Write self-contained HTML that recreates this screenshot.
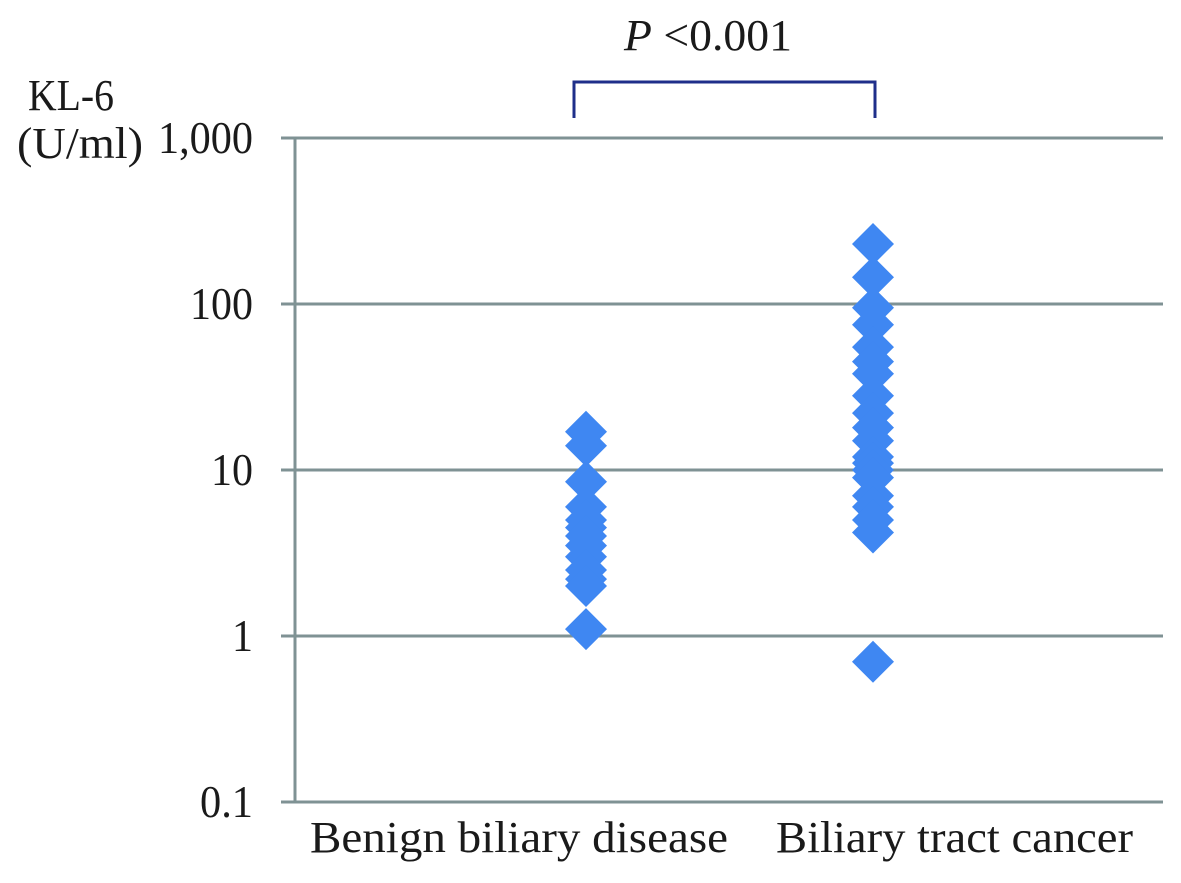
<!DOCTYPE html>
<html><head><meta charset="utf-8"><style>
body{margin:0;background:#fff;}
svg text{font-family:"Liberation Serif",serif;fill:#1a1a1a;}
</style></head><body>
<svg width="1181" height="878" viewBox="0 0 1181 878">
<g id="grid"></g>
<g id="pts"></g>
<text x="28" y="110" font-size="44" textLength="86" lengthAdjust="spacingAndGlyphs">KL-6</text>
<text x="17" y="158" font-size="44" textLength="126" lengthAdjust="spacingAndGlyphs">(U/ml)</text>
<path d="M574,118 V82 H875 V118" fill="none" stroke="#1f2f8a" stroke-width="3"/>
<text x="624" y="50" font-size="44" textLength="168" lengthAdjust="spacingAndGlyphs"><tspan font-style="italic">P</tspan> &lt;0.001</text>
</svg>
<script>
const categories=["Benign biliary disease","Biliary tract cancer"];
const benignValues=[17,14,8.5,6,5,4.5,4,3.5,3,2.5,2.2,2,1.1];
const cancerValues=[230,145,95,75,55,45,38,28,22,18,15,12,11,10,9,7,6,5,4.2,0.7];
const tickValues=[0.1,1,10,100,1000];
const tickLabels=["0.1","1","10","100","1,000"];
const NS="http://www.w3.org/2000/svg";
const y0=802,dec=166,xL=295,xR=1163;
function yScale(v){return y0-(Math.log10(v)+1)*dec;}
function xScale(i){return 586+i*287;}
function mk(t,a,p){const e=document.createElementNS(NS,t);for(const k in a)e.setAttribute(k,a[k]);p.appendChild(e);return e;}
const grid=document.getElementById('grid');
tickValues.forEach((v,i)=>{
  const y=yScale(v);
  const l=mk('line',{x1:xL-14,x2:xR,y1:y,y2:y,stroke:'#7f9294','stroke-width':3},grid);
  
  
  const lab=tickLabels[i];
  const w=lab.length*21+(lab.indexOf(',')>=0||lab.indexOf('.')>=0?-10:0);
  const t=mk('text',{x:253,y:y+15,'text-anchor':'end','font-size':46,textLength:w,lengthAdjust:'spacingAndGlyphs'},grid);
  t.textContent=lab;
  
  
});
const ax=mk('line',{x1:xL,x2:xL,y1:yScale(1000),y2:y0,stroke:'#7f9294','stroke-width':3},grid);


const labX=[310,776],labW=[418,357];
categories.forEach((c,i)=>{
  const t=mk('text',{x:labX[i],y:852,'font-size':44,textLength:labW[i],lengthAdjust:'spacingAndGlyphs'},grid);
  t.textContent=c;
  
  
});
const pts=document.getElementById('pts');
[benignValues,cancerValues].forEach((arr,i)=>{
  arr.forEach(v=>{
    const x=xScale(i),y=yScale(v),r=21;
    const p=mk('polygon',{points:`${x},${y-r} ${x+r},${y} ${x},${y+r} ${x-r},${y}`,fill:'#3f87f2'},pts);
    
    
  });
});
</script>
</body></html>
